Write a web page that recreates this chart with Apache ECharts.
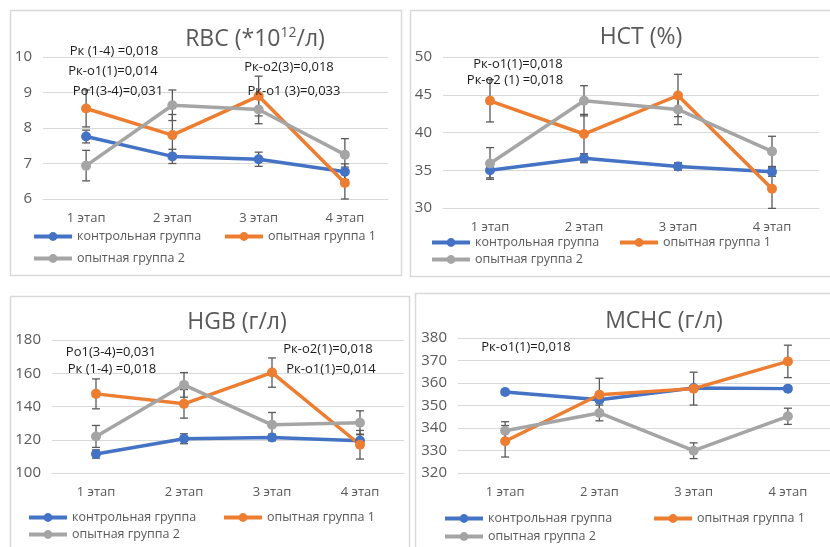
<!DOCTYPE html>
<html>
<head>
<meta charset="utf-8">
<script src="https://cdn.jsdelivr.net/npm/echarts@6/dist/echarts.min.js"></script>
<style>
html, body { margin: 0; padding: 0; background: #fff; }
#chart { width: 830px; height: 547px; }
</style>
</head>
<body>
<div id="chart"></div>
<script>
var stages = ['1 этап', '2 этап', '3 этап', '4 этап'];
var groups = ['контрольная группа', 'опытная группа 1', 'опытная группа 2'];
var colors = ['#4472C4', '#ED7D31', '#A5A5A5'];

// RBC (*10^12/л)
var rbcControl = [7.76, 7.20, 7.12, 6.77];
var rbcExp1 = [8.55, 7.80, 8.90, 6.45];
var rbcExp2 = [6.94, 8.64, 8.52, 7.25];
var rbcControlErr = [0.18, 0.20, 0.20, 0.22];
var rbcExp1Err = [0.52, 0.58, 0.56, 0.45];
var rbcExp2Err = [0.43, 0.43, 0.40, 0.45];

// HCT (%)
var hctControl = [35.0, 36.6, 35.5, 34.8];
var hctExp1 = [44.2, 39.8, 44.9, 32.55];
var hctExp2 = [35.9, 44.2, 43.05, 37.5];
var hctControlErr = [1.0, 0.6, 0.5, 0.6];
var hctExp1Err = [2.8, 2.6, 2.8, 2.6];
var hctExp2Err = [2.1, 2.0, 2.0, 2.0];

// HGB (г/л)
var hgbControl = [111.4, 120.6, 121.4, 119.4];
var hgbExp1 = [147.6, 141.6, 160.4, 117.0];
var hgbExp2 = [122.0, 153.0, 129.0, 130.2];
var hgbControlErr = [2.5, 3.0, 2.0, 4.0];
var hgbExp1Err = [9.0, 8.6, 8.8, 8.6];
var hgbExp2Err = [6.6, 7.4, 7.4, 7.2];

// MCHC (г/л)
var mchcControl = [356.0, 352.6, 357.8, 357.5];
var mchcExp1 = [334.1, 354.8, 357.5, 369.6];
var mchcExp2 = [338.8, 346.7, 329.9, 345.2];
var mchcControlErr = [1.0, 1.0, 1.0, 1.0];
var mchcExp1Err = [7.0, 7.3, 7.3, 7.2];
var mchcExp2Err = [4.0, 3.5, 3.5, 3.6];

// p-value notes
var rbcNotes = ['Pк (1-4) =0,018', 'Pк-о1(1)=0,014', 'Pо1(3-4)=0,031', 'Pк-о2(3)=0,018', 'Pк-о1 (3)=0,033'];
var hctNotes = ['Pк-о1(1)=0,018', 'Pк-о2 (1) =0,018'];
var hgbNotes = ['Pо1(3-4)=0,031', 'Pк (1-4) =0,018', 'Pк-о2(1)=0,018', 'Pк-о1(1)=0,014'];
var mchcNotes = ['Pк-о1(1)=0,018'];

var panels = [
    {
        title: '{a|RBC (*10}{s|12}{a|/л)}', tx: 255, ty: 39,
        grid: {left: 43, top: 57, width: 345, height: 142},
        y: {min: 6, max: 10, interval: 1},
        values: [rbcControl, rbcExp1, rbcExp2],
        errs: [rbcControlErr, rbcExp1Err, rbcExp2Err],
        notes: rbcNotes,
        notePos: [[114, 51], [113, 71], [118, 91], [289, 67], [294, 91]],
        legend: [[32, 236], [223, 236], [32, 258]],
        box: [10, 10, 391, 265]
    },
    {
        title: '{a|HCT (%)}', tx: 641, ty: 37,
        grid: {left: 443, top: 57, width: 376, height: 151},
        y: {min: 30, max: 50, interval: 5},
        values: [hctControl, hctExp1, hctExp2],
        errs: [hctControlErr, hctExp1Err, hctExp2Err],
        notes: hctNotes,
        notePos: [[518, 64], [515, 80]],
        legend: [[430, 242], [618, 242], [430, 259]],
        box: [410, 10, 440, 266]
    },
    {
        title: '{a|HGB (г/л)}', tx: 237, ty: 322,
        grid: {left: 52, top: 340, width: 352, height: 133},
        y: {min: 100, max: 180, interval: 20},
        values: [hgbControl, hgbExp1, hgbExp2],
        errs: [hgbControlErr, hgbExp1Err, hgbExp2Err],
        notes: hgbNotes,
        notePos: [[111, 352], [112, 369], [328, 349], [331, 369]],
        legend: [[27, 517], [222, 517], [27, 534]],
        box: [10, 296, 399, 270]
    },
    {
        title: '{a|МСНС (г/л)}', tx: 664, ty: 321,
        grid: {left: 458, top: 338, width: 377, height: 135},
        y: {min: 320, max: 380, interval: 10},
        values: [mchcControl, mchcExp1, mchcExp2],
        errs: [mchcControlErr, mchcExp1Err, mchcExp2Err],
        notes: mchcNotes,
        notePos: [[526, 347]],
        legend: [[443, 518], [652, 518], [443, 536]],
        box: [415, 293, 440, 270]
    }
];

var FONT = '"Open Sans", "Noto Sans", sans-serif';

function renderErr(params, api) {
    var x = api.value(0);
    var lo = api.coord([x, api.value(1)]);
    var hi = api.coord([x, api.value(2)]);
    var w = 4;
    var st = {stroke: '#5a5a5a', lineWidth: 1.3};
    return {
        type: 'group',
        children: [
            {type: 'line', shape: {x1: lo[0], y1: lo[1], x2: hi[0], y2: hi[1]}, style: st},
            {type: 'line', shape: {x1: lo[0] - w, y1: lo[1], x2: lo[0] + w, y2: lo[1]}, style: st},
            {type: 'line', shape: {x1: hi[0] - w, y1: hi[1], x2: hi[0] + w, y2: hi[1]}, style: st}
        ]
    };
}

var grids = [], xAxes = [], yAxes = [], series = [], legends = [], graphics = [];

panels.forEach(function (p, pi) {
    graphics.push({
        type: 'rect', silent: true, z: -1,
        shape: {x: p.box[0] + 0.5, y: p.box[1] + 0.5, width: p.box[2], height: p.box[3]},
        style: {fill: '#fff', stroke: '#d9d9d9', lineWidth: 1.5}
    });
    graphics.push({
        type: 'text', silent: true,
        style: {
            x: p.tx, y: p.ty, text: p.title, align: 'center', verticalAlign: 'middle',
            rich: {
                a: {fontSize: 23, fontFamily: FONT, fill: '#595959'},
                s: {fontSize: 14, fontFamily: FONT, fill: '#595959', padding: [0, 0, 12, 0]}
            }
        }
    });
    p.notes.forEach(function (t, ni) {
        graphics.push({
            type: 'text', silent: true, z: 5,
            style: {
                x: p.notePos[ni][0], y: p.notePos[ni][1], text: t,
                align: 'center', verticalAlign: 'middle',
                font: '13px ' + FONT, fill: '#1a1a1a'
            }
        });
    });

    grids.push({
        left: p.grid.left, top: p.grid.top, width: p.grid.width, height: p.grid.height,
        containLabel: false, outerBoundsMode: 'none'
    });
    xAxes.push({
        type: 'category', gridIndex: pi, data: stages, boundaryGap: true,
        axisLine: {show: true, lineStyle: {color: '#d9d9d9'}},
        axisTick: {show: false},
        axisLabel: {color: '#595959', fontSize: 13, fontFamily: FONT, margin: 13}
    });
    yAxes.push({
        type: 'value', gridIndex: pi, min: p.y.min, max: p.y.max, interval: p.y.interval,
        axisLine: {show: false}, axisTick: {show: false},
        splitLine: {lineStyle: {color: '#d9d9d9', width: 1}},
        axisLabel: {color: '#595959', fontSize: 15, fontFamily: FONT, margin: 11}
    });

    p.values.forEach(function (vals, gi) {
        var err = p.errs[gi];
        series.push({
            type: 'custom', xAxisIndex: pi, yAxisIndex: pi, z: 1, silent: true,
            renderItem: renderErr,
            encode: {x: 0, y: [1, 2]},
            data: vals.map(function (v, i) { return [i, v - err[i], v + err[i]]; })
        });
    });
    p.values.forEach(function (vals, gi) {
        series.push({
            type: 'line', name: groups[gi], xAxisIndex: pi, yAxisIndex: pi, z: 3,
            data: vals, symbol: 'circle', symbolSize: 10,
            lineStyle: {width: 3.5, color: colors[gi]},
            itemStyle: {color: colors[gi]},
            animation: false
        });
    });

    p.legend.forEach(function (pos, gi) {
        legends.push({
            data: [groups[gi]], left: pos[0], top: pos[1] - 6, padding: 0,
            itemWidth: 38, itemHeight: 11, selectedMode: false,
            lineStyle: {width: 4},
            textStyle: {color: '#595959', fontSize: 12.5, fontFamily: FONT}
        });
    });
});

var chart = echarts.init(document.getElementById('chart'));
chart.setOption({
    animation: false,
    backgroundColor: '#fff',
    grid: grids,
    xAxis: xAxes,
    yAxis: yAxes,
    legend: legends,
    series: series,
    graphic: graphics
});
</script>
</body>
</html>
